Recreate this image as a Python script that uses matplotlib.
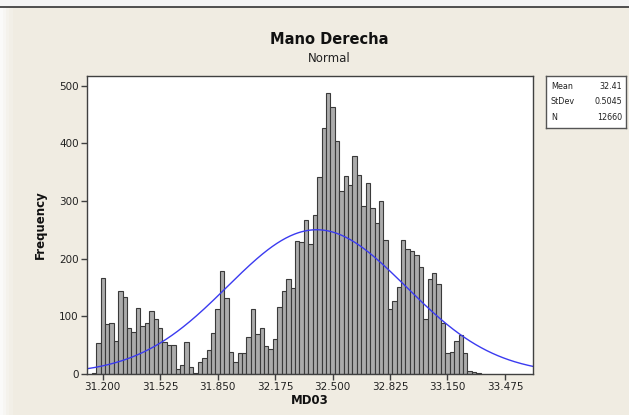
import matplotlib
matplotlib.use("Agg")
import matplotlib.pyplot as plt
import numpy as np

# histogram bins (midpoints) and counts
bin_width = 0.025
first_mid = 31.150
counts = [2, 53, 167, 87, 89, 58, 144, 134, 79, 73, 115, 83, 89, 109, 96, 80,
          55, 51, 51, 9, 16, 55, 13, 1, 20, 28, 42, 71, 113, 179, 132, 38, 20,
          37, 37, 64, 112, 69, 80, 48, 43, 61,
          117, 144, 164, 150, 230, 229, 268, 225, 275, 342, 426, 487, 463, 405,
          317, 343, 328, 378, 346, 292, 331, 288, 262, 300, 232,
          113, 127, 151, 232, 216, 214, 206, 186, 96, 165, 176, 156, 89, 36,
          38, 58, 68, 36, 6, 3, 1]
mids = first_mid + bin_width * np.arange(len(counts))

mean, stdev, n = 32.41, 0.5045, 12660
xticks = [31.200, 31.525, 31.850, 32.175, 32.500, 32.825, 33.150, 33.475]
yticks = [0, 100, 200, 300, 400, 500]

bg = "#F0ECE2"
plt.rcParams["font.family"] = ["DejaVu Sans"]

fig = plt.figure(figsize=(6.29, 4.15), dpi=100, facecolor=bg)
# window top edge / left shading
fig.patches.append(plt.Rectangle((0, 0.982), 1, 0.018, transform=fig.transFigure,
                                 facecolor="#F4F4F4", edgecolor="none", zorder=0))
fig.lines.append(plt.Line2D([0, 1], [0.982, 0.982], transform=fig.transFigure,
                            color="#333333", lw=1.2))
for i, c in enumerate(["#FAFAF9", "#F7F6F3", "#F4F2EC", "#F2EFE7"]):
    fig.patches.append(plt.Rectangle((i * 0.005, 0), 0.005, 0.982, transform=fig.transFigure,
                                     facecolor=c, edgecolor="none", zorder=0))

ax = fig.add_axes([0.1383, 0.0988, 0.7083, 0.7181])
ax.set_facecolor("white")
ax.bar(mids, counts, width=bin_width, color="#ABABAB", edgecolor="#3A3A3A",
       linewidth=0.8, align="center")

xs = np.linspace(31.111, 33.631, 400)
fit = n * bin_width / (stdev * np.sqrt(2 * np.pi)) * np.exp(-0.5 * ((xs - mean) / stdev) ** 2)
ax.plot(xs, fit, color="#3B3BF0", lw=1.0)

ax.set_xlim(31.111, 33.631)
ax.set_ylim(0, 517)
ax.set_xticks(xticks)
ax.set_xticklabels([f"{t:.3f}" for t in xticks])
ax.set_yticks(yticks)
for s in ax.spines.values():
    s.set_color("#404040")
    s.set_linewidth(1.0)
ax.tick_params(axis="both", direction="out", length=4, width=1, color="#404040",
               labelsize=7.5, labelcolor="#222222", pad=2)

ax.set_xlabel("MD03", fontsize=8.5, fontweight="bold", color="#111111", labelpad=1)
ax.set_ylabel("Frequency", fontsize=8.5, fontweight="bold", color="#111111", labelpad=9)

fig.text(0.524, 0.905, "Mano Derecha", ha="center", va="center", fontsize=10.5,
         fontweight="bold", color="#111111")
fig.text(0.524, 0.860, "Normal", ha="center", va="center", fontsize=8.5, color="#222222")

# statistics box
box = fig.add_axes([0.868, 0.692, 0.128, 0.125])
box.set_xticks([])
box.set_yticks([])
box.set_facecolor("white")
for s in box.spines.values():
    s.set_color("#555555")
    s.set_linewidth(1.0)
rows = [("Mean", f"{mean:.2f}"), ("StDev", f"{stdev:.4f}"), ("N", f"{n}")]
for i, (k, v) in enumerate(rows):
    yy = 0.80 - i * 0.30
    box.text(0.06, yy, k, fontsize=5.8, va="center", ha="left", color="#222222",
             transform=box.transAxes)
    box.text(0.95, yy, v, fontsize=5.8, va="center", ha="right", color="#222222",
             transform=box.transAxes)

fig.savefig("out.png", dpi=100, facecolor=bg)
